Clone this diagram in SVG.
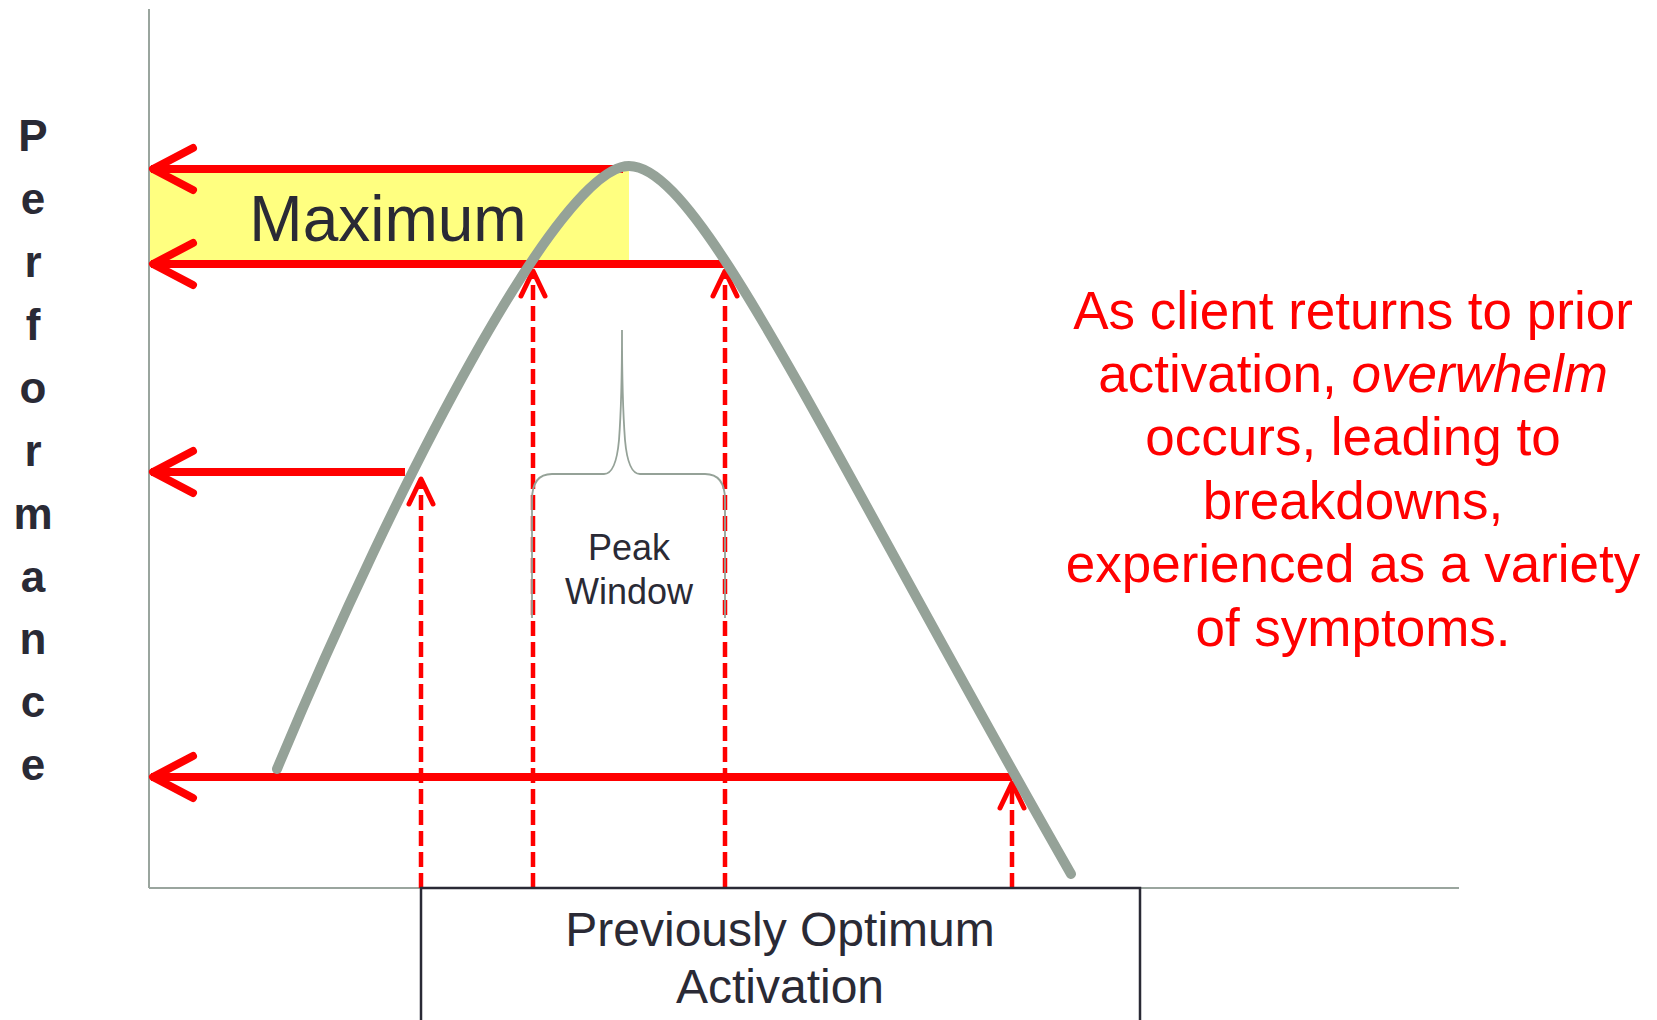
<svg xmlns="http://www.w3.org/2000/svg" width="1657" height="1020" viewBox="0 0 1657 1020">
  <style>
    .axis { stroke: #9aa59e; stroke-width: 2; fill: none; }
    .level { stroke: #ff0000; stroke-width: 8; fill: none; stroke-linecap: butt; }
    .head { stroke: #ff0000; stroke-width: 8; fill: none; stroke-linecap: round; stroke-linejoin: round; }
    .drop { stroke: #ff0000; stroke-width: 4.5; fill: none; stroke-dasharray: 15 6; }
    .uphead { stroke: #ff0000; stroke-width: 5; fill: none; stroke-linecap: round; stroke-linejoin: round; }
    .curve { stroke: #95a298; stroke-width: 10; fill: none; stroke-linecap: round; }
    .brace { stroke: #95a298; stroke-width: 1.8; fill: none; }
    .dark { fill: #2a2a35; font-family: "Liberation Sans", Arial, sans-serif; }
    .ylabel { fill: #2a2a35; font-family: "Liberation Sans", Arial, sans-serif; font-weight: bold; font-size: 44px; text-anchor: middle; }
    .note { fill: #ff0000; font-family: "Liberation Sans", Arial, sans-serif; font-size: 53px; text-anchor: middle; }
  </style>

  <rect width="1657" height="1020" fill="#ffffff"/>

  <!-- maximum band -->
  <g id="maximum-band">
    <rect x="149" y="169" width="480" height="95" fill="#ffff80"/>
    <text class="dark" x="388" y="241" font-size="64" text-anchor="middle">Maximum</text>
  </g>

  <!-- axes -->
  <g id="axes">
    <line class="axis" x1="149" y1="9" x2="149" y2="888"/>
    <line class="axis" x1="149" y1="888" x2="1459" y2="888"/>
  </g>

  <!-- vertical axis label -->
  <g id="performance-label">
    <text class="ylabel" x="33" y="151">P</text>
    <text class="ylabel" x="33" y="214">e</text>
    <text class="ylabel" x="33" y="277">r</text>
    <text class="ylabel" x="33" y="340">f</text>
    <text class="ylabel" x="33" y="403">o</text>
    <text class="ylabel" x="33" y="466">r</text>
    <text class="ylabel" x="33" y="529">m</text>
    <text class="ylabel" x="33" y="592">a</text>
    <text class="ylabel" x="33" y="654">n</text>
    <text class="ylabel" x="33" y="717">c</text>
    <text class="ylabel" x="33" y="780">e</text>
  </g>

  <!-- connectors: performance levels and activation drops -->
  <g id="connectors">
    <line class="level" x1="151" y1="169" x2="623" y2="169"/>
    <line class="level" x1="151" y1="264" x2="725" y2="264"/>
    <line class="level" x1="151" y1="472" x2="405" y2="472"/>
    <line class="level" x1="151" y1="777" x2="1012" y2="777"/>
    <path class="head" d="M193,148 L153,169 L193,190"/>
    <path class="head" d="M193,243 L153,264 L193,285"/>
    <path class="head" d="M193,451 L153,472 L193,493"/>
    <path class="head" d="M193,756 L153,777 L193,798"/>

    <line class="drop" x1="421" y1="888" x2="421" y2="480"/>
    <line class="drop" x1="533" y1="888" x2="533" y2="272"/>
    <line class="drop" x1="725" y1="888" x2="725" y2="272"/>
    <line class="drop" x1="1012" y1="888" x2="1012" y2="784"/>
    <path class="uphead" d="M409,504 L421,479 L433,504"/>
    <path class="uphead" d="M521,296 L533,271 L545,296"/>
    <path class="uphead" d="M713,296 L725,271 L737,296"/>
    <path class="uphead" d="M1000,808 L1012,783 L1024,808"/>
  </g>

  <!-- activation curve -->
  <g id="activation-curve">
    <path class="curve" d="M277,769 C397,481 560,166 629,166 C700,166 821,437 1071,874"/>
  </g>

  <!-- peak window brace -->
  <g id="peak-window">
    <path class="brace" d="M532,618 L532,500 Q532,474 552,474 L604,474 Q616,474 619,440 Q622,400 622,330 Q622,400 625,440 Q628,474 640,474 L705,474 Q725,474 725,500 L725,618"/>
    <text class="dark" x="629" y="560" font-size="36" text-anchor="middle">Peak</text>
    <text class="dark" x="629" y="604" font-size="36" text-anchor="middle">Window</text>
  </g>

  <!-- activation box -->
  <g id="activation-box">
    <path d="M421,1022 L421,888 L1140,888 L1140,1022" fill="none" stroke="#2a2a35" stroke-width="2.5"/>
    <text class="dark" x="780" y="946" font-size="48" text-anchor="middle">Previously Optimum</text>
    <text class="dark" x="780" y="1003" font-size="48" text-anchor="middle">Activation</text>
  </g>

  <!-- explanatory note -->
  <g id="overwhelm-note">
    <text class="note" x="1353" y="329">As client returns to prior</text>
    <text class="note" x="1353" y="392">activation, <tspan font-style="italic">overwhelm</tspan></text>
    <text class="note" x="1353" y="455">occurs, leading to</text>
    <text class="note" x="1353" y="519">breakdowns,</text>
    <text class="note" x="1353" y="582">experienced as a variety</text>
    <text class="note" x="1353" y="646">of symptoms.</text>
  </g>
</svg>
